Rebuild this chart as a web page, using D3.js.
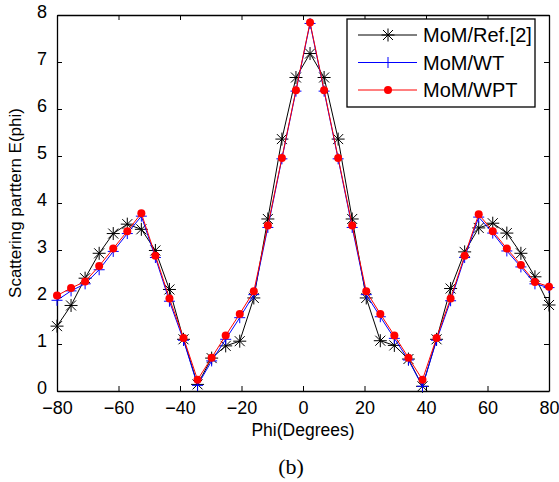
<!DOCTYPE html>
<html>
<head>
<meta charset="utf-8">
<script src="https://cdn.jsdelivr.net/npm/d3@7"></script>
<style>
  body { margin: 0; background: #fff; }
  text { font-family: Arial, "Liberation Sans", sans-serif; }
</style>
</head>
<body>
<div id="chart"></div>
<script>
// angles (degrees)
var phi = [-80, -75.43, -70.86, -66.29, -61.71, -57.14, -52.57, -48, -43.43, -38.86, -34.29, -29.71,
  -25.14, -20.57, -16, -11.43, -6.86, -2.29, 2.29, 6.86, 11.43, 16, 20.57, 25.14, 29.71, 34.29,
  38.86, 43.43, 48, 52.57, 57.14, 61.71, 66.29, 70.86, 75.43, 80];

var refVals = [1.38, 1.82, 2.40, 2.93, 3.35, 3.55, 3.44, 2.99, 2.16, 1.10, 0.14, 0.70,
  0.96, 1.06, 1.98, 3.66, 5.36, 6.67, 7.18, 6.67, 5.36, 3.66, 1.98, 1.07, 0.97, 0.68,
  0.10, 1.10, 2.18, 2.96, 3.47, 3.57, 3.36, 2.93, 2.43, 1.83];

var wtVals = [1.93, 2.13, 2.28, 2.58, 2.97, 3.35, 3.72, 2.84, 1.91, 1.08, 0.12, 0.64,
  1.10, 1.56, 2.05, 3.48, 4.94, 6.38, 7.82, 6.38, 4.94, 3.48, 2.05, 1.58, 1.12, 0.66,
  0.10, 1.08, 1.92, 2.84, 3.70, 3.36, 2.98, 2.64, 2.28, 2.20];

var wptVals = [2.03, 2.19, 2.33, 2.66, 3.03, 3.40, 3.78, 2.88, 1.97, 1.13, 0.24, 0.71,
  1.18, 1.64, 2.12, 3.52, 4.96, 6.40, 7.84, 6.40, 4.96, 3.52, 2.12, 1.64, 1.18, 0.71,
  0.24, 1.13, 1.97, 2.88, 3.76, 3.40, 3.03, 2.68, 2.32, 2.22];

var xTicks = [-80, -60, -40, -20, 0, 20, 40, 60, 80];
var yTicks = [0, 1, 2, 3, 4, 5, 6, 7, 8];
var seriesNames = ["MoM/Ref.[2]", "MoM/WT", "MoM/WPT"];

var svgWidth = 559, svgHeight = 482;
var margin = { top: 15, right: 10, bottom: 91, left: 57 };
var width = svgWidth - margin.left - margin.right;
var height = svgHeight - margin.top - margin.bottom;

var svg = d3.select("#chart").append("svg")
  .attr("width", svgWidth)
  .attr("height", svgHeight);

var fig = svg.append("g")
  .attr("transform", `translate(${margin.left}, ${margin.top})`);

var x = d3.scaleLinear().domain([-80, 80]).range([0, width]);
var y = d3.scaleLinear().domain([0, 8]).range([height, 0]);

// axes (MATLAB style: inward ticks on all sides)
function styleAxis(g) {
  g.select(".domain").attr("stroke", "#000").attr("stroke-width", 1.3);
  g.selectAll(".tick line").attr("stroke", "#000");
  g.selectAll(".tick text").attr("font-size", 18).attr("fill", "#000");
}
fig.append("g")
  .attr("transform", `translate(0, ${height})`)
  .call(d3.axisBottom(x).tickValues(xTicks).tickSize(-5).tickPadding(10).tickSizeOuter(0))
  .call(styleAxis);
fig.append("g")
  .call(d3.axisTop(x).tickValues(xTicks).tickSize(-5).tickFormat("").tickSizeOuter(0))
  .call(styleAxis);
fig.append("g")
  .call(d3.axisLeft(y).tickValues(yTicks).tickSize(-5).tickPadding(10).tickSizeOuter(0))
  .call(styleAxis)
  .call(g => g.selectAll(".tick text").attr("dy", "0.15em"));
fig.append("g")
  .attr("transform", `translate(${width}, 0)`)
  .call(d3.axisRight(y).tickValues(yTicks).tickSize(-5).tickFormat("").tickSizeOuter(0))
  .call(styleAxis);

// marker painters
function asterisk(g, color) {
  var r = 6.5, d = 5;
  var p = `M${-r},0L${r},0M0,${-r}L0,${r}M${-d},${-d}L${d},${d}M${-d},${d}L${d},${-d}`;
  g.append("path").attr("d", p).attr("stroke", color).attr("stroke-width", 1).attr("fill", "none");
}
function plus(g, color) {
  var r = 5.5;
  g.append("path").attr("d", `M${-r},0L${r},0M0,${-r}L0,${r}`)
    .attr("stroke", color).attr("stroke-width", 1).attr("fill", "none");
}
function dot(g, color) {
  g.append("circle").attr("r", 4).attr("fill", color);
}

var series = [
  { name: seriesNames[0], vals: refVals, color: "#000000", marker: asterisk },
  { name: seriesNames[1], vals: wtVals, color: "#0000ff", marker: plus },
  { name: seriesNames[2], vals: wptVals, color: "#ff0000", marker: dot }
];

var line = d3.line().x(d => x(d[0])).y(d => y(d[1]));

series.forEach(function(s) {
  var pts = phi.map((p, i) => [p, s.vals[i]]);
  fig.append("path")
    .datum(pts)
    .attr("d", line)
    .attr("fill", "none")
    .attr("stroke", s.color)
    .attr("stroke-width", 1);
  fig.selectAll(null)
    .data(pts)
    .enter()
    .append("g")
    .attr("transform", d => `translate(${x(d[0])}, ${y(d[1])})`)
    .each(function() { s.marker(d3.select(this), s.color); });
});

// legend
var lg = svg.append("g").attr("transform", "translate(347, 19)");
lg.append("rect")
  .attr("width", 188).attr("height", 88)
  .attr("fill", "#fff").attr("stroke", "#000").attr("stroke-width", 1.3);
series.forEach(function(s, i) {
  var ly = 16 + i * 27.5;
  lg.append("line")
    .attr("x1", 11).attr("x2", 70).attr("y1", ly).attr("y2", ly)
    .attr("stroke", s.color).attr("stroke-width", 1);
  var m = lg.append("g").attr("transform", `translate(41, ${ly})`);
  s.marker(m, s.color);
  lg.append("text")
    .attr("x", 76).attr("y", ly).attr("dy", "0.36em")
    .attr("font-size", 20)
    .text(s.name);
});

// axis labels
svg.append("text")
  .attr("x", margin.left + width / 2).attr("y", 436)
  .attr("text-anchor", "middle").attr("font-size", 17.5)
  .text("Phi(Degrees)");
svg.append("text")
  .attr("transform", `translate(21, ${margin.top + height / 2}) rotate(-90)`)
  .attr("text-anchor", "middle").attr("font-size", 17)
  .text("Scattering parttern E(phi)");
svg.append("text")
  .attr("x", 291).attr("y", 474)
  .attr("text-anchor", "middle").attr("font-size", 22)
  .style("font-family", "'Liberation Serif', 'Times New Roman', serif")
  .text("(b)");
</script>
</body>
</html>
